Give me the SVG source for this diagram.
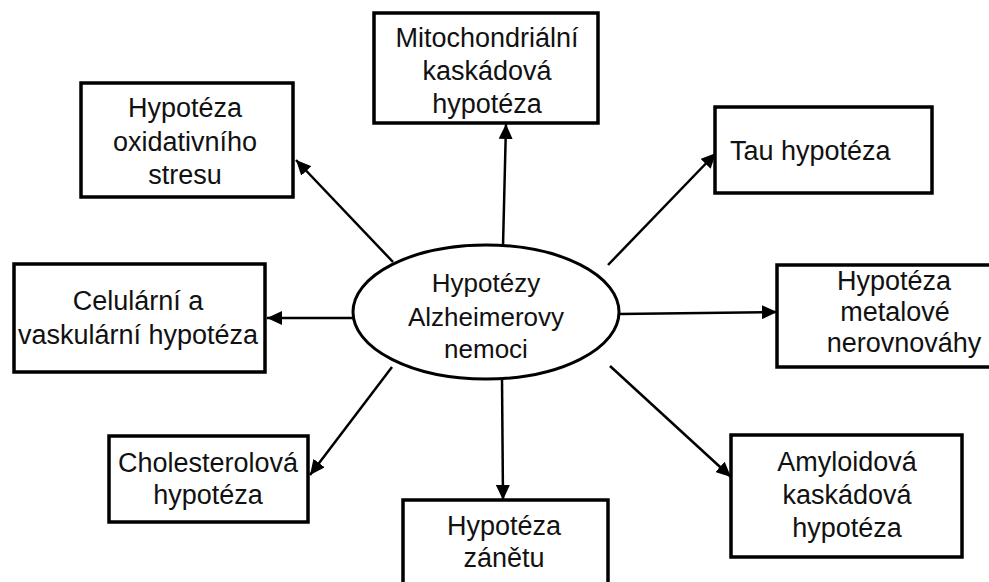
<svg xmlns="http://www.w3.org/2000/svg" width="989" height="582" viewBox="0 0 989 582">
<defs>
<style>
.box{fill:#fff;stroke:#000;stroke-width:3.5}
.ell{fill:#fff;stroke:#000;stroke-width:3}
.t{font-family:"Liberation Sans",Arial,sans-serif;font-size:27px;fill:#111;text-anchor:middle}
.e{font-size:26px}
.c{stroke:#000;stroke-width:2.5;fill:none;marker-end:url(#ah)}
</style>
<marker id="ah" markerUnits="userSpaceOnUse" markerWidth="16" markerHeight="14" refX="15" refY="7" orient="auto">
<path d="M0,0 L15,7 L0,14 z" fill="#000"/>
</marker>
</defs>
<rect width="989" height="582" fill="#fff"/>
<g id="connectors">
<line class="c" x1="503" y1="246" x2="506" y2="124"/>
<line class="c" x1="393" y1="262" x2="296" y2="160"/>
<line class="c" x1="608" y1="265" x2="716" y2="153"/>
<line class="c" x1="619" y1="314" x2="777" y2="312"/>
<line class="c" x1="610" y1="366" x2="731" y2="477"/>
<line class="c" x1="502" y1="379" x2="503" y2="500"/>
<line class="c" x1="392" y1="367" x2="310" y2="475"/>
<line class="c" x1="353" y1="318" x2="267" y2="318"/>
</g>
<g id="center">
<ellipse class="ell" cx="486" cy="312" rx="133" ry="67"/>
<text class="t e" x="486" y="292">Hypotézy</text>
<text class="t e" x="486" y="326">Alzheimerovy</text>
<text class="t e" x="486" y="358">nemoci</text>
</g>
<g id="mito">
<rect class="box" x="374" y="13" width="224" height="110"/>
<text class="t" x="487" y="47">Mitochondriální</text>
<text class="t" x="487" y="80">kaskádová</text>
<text class="t" x="487" y="113">hypotéza</text>
</g>
<g id="oxid">
<rect class="box" x="81" y="83" width="212" height="114"/>
<text class="t" x="185" y="117">Hypotéza</text>
<text class="t" x="185" y="151">oxidativního</text>
<text class="t" x="185" y="184">stresu</text>
</g>
<g id="tau">
<rect class="box" x="715" y="107" width="217" height="86"/>
<text class="t" x="730" y="160" style="text-anchor:start">Tau hypotéza</text>
</g>
<g id="metal">
<rect class="box" x="777" y="265" width="214" height="102"/>
<text class="t" x="894" y="290">Hypotéza</text>
<text class="t" x="895" y="321">metalové</text>
<text class="t" x="904" y="352">nerovnováhy</text>
</g>
<g id="amyloid">
<rect class="box" x="731" y="435" width="231" height="122"/>
<text class="t" x="847" y="471">Amyloidová</text>
<text class="t" x="847" y="504">kaskádová</text>
<text class="t" x="847" y="537">hypotéza</text>
</g>
<g id="zanet">
<rect class="box" x="403" y="500" width="205" height="95"/>
<text class="t" x="504" y="535">Hypotéza</text>
<text class="t" x="504" y="567">zánětu</text>
</g>
<g id="cholest">
<rect class="box" x="109" y="436" width="199" height="86"/>
<text class="t" x="208" y="472">Cholesterolová</text>
<text class="t" x="208" y="504">hypotéza</text>
</g>
<g id="celular">
<rect class="box" x="14" y="264" width="251" height="108"/>
<text class="t" x="138" y="310">Celulární a</text>
<text class="t" x="138" y="344">vaskulární hypotéza</text>
</g>
</svg>
